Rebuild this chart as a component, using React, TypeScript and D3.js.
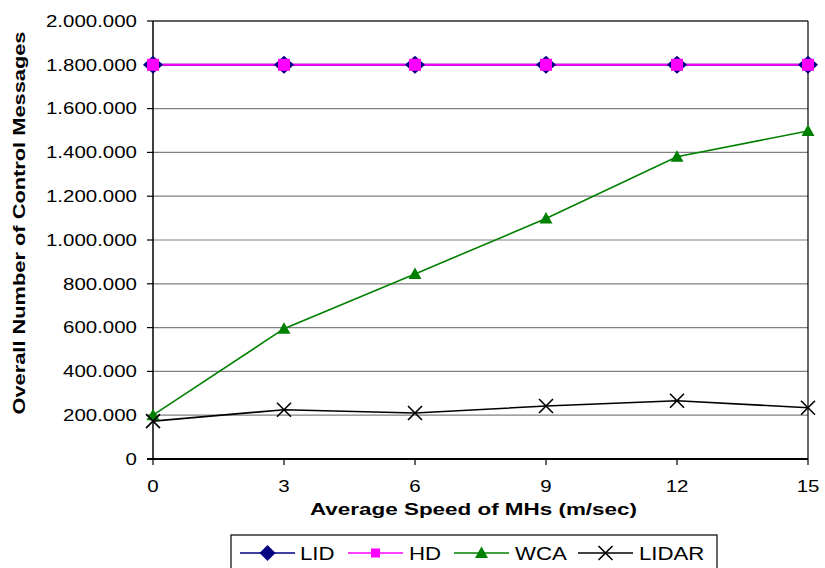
import React from "react";
import * as d3 from "d3";

const speeds = [0, 3, 6, 9, 12, 15];
const lidValues = [1800000, 1800000, 1800000, 1800000, 1800000, 1800000];
const hdValues = [1800000, 1800000, 1800000, 1800000, 1800000, 1800000];
const wcaValues = [200000, 595000, 845000, 1098000, 1380000, 1498000];
const lidarValues = [173000, 225000, 210000, 242000, 266000, 234000];
const yTicks = [0, 200000, 400000, 600000, 800000, 1000000, 1200000, 1400000, 1600000, 1800000, 2000000];
const seriesNames = ["LID", "HD", "WCA", "LIDAR"];

const W = 825, H = 568;
const left = 153, right = 808, top = 21, bottom = 459;

const x = d3.scaleLinear().domain([0, 15]).range([left, right]);
const y = d3.scaleLinear().domain([0, 2000000]).range([bottom, top]);

const fmt = (v: number) => d3.format(",")(v).replace(/,/g, ".");

function Marker({ kind, cx, cy, legend }: { kind: string; cx: number; cy: number; legend?: boolean }) {
  if (kind === "LID") {
    const sx = legend ? 8 : 10, sy = legend ? 8 : 9;
    return <path d={`M${cx},${cy - sy}L${cx + sx},${cy}L${cx},${cy + sy}L${cx - sx},${cy}Z`} fill="#000080" />;
  }
  if (kind === "HD") {
    const s = legend ? 4.5 : 6;
    return <rect x={cx - s} y={cy - s} width={2 * s} height={2 * s} fill="#FF00FF" />;
  }
  if (kind === "WCA") {
    return <path d={`M${cx},${cy - 6.5}L${cx + 6.5},${cy + 5}L${cx - 6.5},${cy + 5}Z`} fill="#008000" />;
  }
  const s = 7;
  return (
    <path d={`M${cx - s},${cy - s}L${cx + s},${cy + s}M${cx - s},${cy + s}L${cx + s},${cy - s}`} stroke="#000" strokeWidth={1.6} fill="none" />
  );
}

const colors: Record<string, string> = { LID: "#000080", HD: "#FF00FF", WCA: "#008000", LIDAR: "#000000" };
const widths: Record<string, number> = { LID: 2, HD: 2, WCA: 1.6, LIDAR: 1.6 };

export default function App() {
  const line = d3.line<[number, number]>().x(d => x(d[0])).y(d => y(d[1]));
  const data: Record<string, number[]> = { LID: lidValues, HD: hdValues, WCA: wcaValues, LIDAR: lidarValues };
  const order = ["WCA", "LIDAR", "LID", "HD"];
  const legendX = [240, 348, 454, 578];
  const legendTextX = [300, 409, 515, 639];
  const ts = 1.28;
  return (
    <svg width={W} height={H} style={{ position: "absolute", left: 0, top: 0 }} fontFamily="'Liberation Sans', Arial, sans-serif">
      <rect width={W} height={H} fill="#fff" />
      {yTicks.filter(t => t > 0).map(t => (
        <line key={t} x1={left} x2={right} y1={y(t)} y2={y(t)} stroke="#808080" strokeWidth={1.2} />
      ))}
      <line x1={left} x2={right} y1={top} y2={top} stroke="#000" strokeWidth={1.2} />
      <line x1={right} x2={right} y1={top} y2={bottom} stroke="#000" strokeWidth={1.2} />
      <line x1={left} x2={left} y1={top} y2={bottom} stroke="#000" strokeWidth={1.5} />
      <line x1={left - 6} x2={right} y1={bottom} y2={bottom} stroke="#000" strokeWidth={1.8} />
      {yTicks.map(t => (
        <g key={t}>
          <line x1={left - 6} x2={left} y1={y(t)} y2={y(t)} stroke="#000" strokeWidth={1.2} />
          <text transform={`translate(137,${y(t)}) scale(${ts},1)`} dy="0.36em" textAnchor="end" fontSize={16} fill="#000">{fmt(t)}</text>
        </g>
      ))}
      {speeds.map(s => (
        <g key={s}>
          <line x1={x(s)} x2={x(s)} y1={bottom} y2={bottom + 6} stroke="#000" strokeWidth={1.2} />
          <text transform={`translate(${x(s)},492) scale(${ts},1)`} textAnchor="middle" fontSize={16} fill="#000">{s}</text>
        </g>
      ))}
      <text x={473.5} y={515} textAnchor="middle" fontSize={16} fontWeight="bold" textLength={327} lengthAdjust="spacingAndGlyphs" fill="#000">Average Speed of MHs (m/sec)</text>
      <text transform="translate(25,223) rotate(-90)" textAnchor="middle" fontSize={16} fontWeight="bold" textLength={383} lengthAdjust="spacingAndGlyphs" fill="#000">Overall Number of Control Messages</text>
      {order.map(name => (
        <path key={name} d={line(speeds.map((s, i) => [s, data[name][i]]) as [number, number][]) || ""} fill="none" stroke={colors[name]} strokeWidth={widths[name]} />
      ))}
      {order.map(name => (
        <g key={name + "m"}>
          {speeds.map((s, i) => <Marker key={s} kind={name} cx={x(s)} cy={y(data[name][i])} />)}
        </g>
      ))}
      <rect x={231} y={535} width={486} height={40} fill="#fff" stroke="#000" strokeWidth={1.2} />
      {seriesNames.map((name, i) => (
        <g key={name}>
          <line x1={legendX[i]} x2={legendX[i] + 55} y1={553} y2={553} stroke={colors[name]} strokeWidth={1.5} />
          <Marker kind={name} cx={legendX[i] + 27.5} cy={553} legend />
          <text transform={`translate(${legendTextX[i]},553) scale(1.17,1)`} dy="0.36em" fontSize={19} fill="#000">{name}</text>
        </g>
      ))}
    </svg>
  );
}
